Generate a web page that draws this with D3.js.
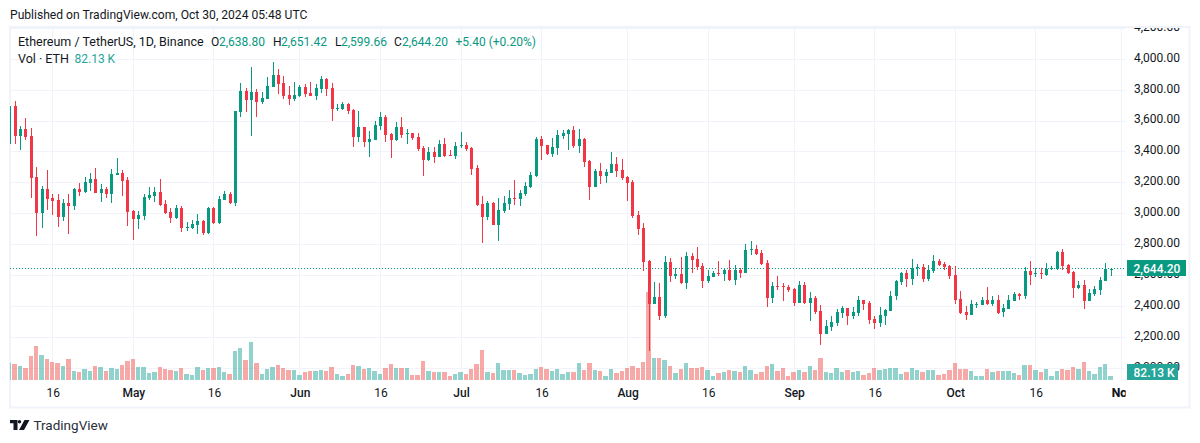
<!DOCTYPE html>
<html>
<head>
<meta charset="utf-8">
<style>
    html, body { margin: 0; padding: 0; background: #fff; }
    svg { display: block; font-family: Roboto, sans-serif; }
    text { fill: #131722; }
</style>
<script src="https://cdn.jsdelivr.net/npm/d3@7"></script>
</head>
<body>
<div id="chart"></div>
<script>
// first candle is 8 Apr 2024, one candle per day up to 30 Oct
const firstDay = new Date(Date.UTC(2024, 3, 8));
const lastDay = new Date(Date.UTC(2024, 9, 30));

const opens = [3452,3698,3504,3549,3504,3238,3005,3160,3102,3089,2979,3070,3050,3160,3141,3199,3225,3134,3160,3128,3251,3264,3219,3018,2966,2986,3102,3115,3141,3063,3011,2973,3037,2908,2908,2927,2953,2876,3037,2940,3089,3128,3070,3659,3795,3737,3788,3724,3743,3821,3898,
    3847,3769,3743,3763,3821,3782,3763,3808,3873,3814,3678,3678,3711,3672,3497,3562,3465,3478,3568,3627,3517,3478,3562,3517,3523,3497,3426,3348,3400,3368,3452,3381,3374,3437,3445,3426,3296,3063,2979,3070,2927,3018,3063,3102,3096,3128,3173,3245,3484,3445,3387,3426,3504,3517,3542,3439,
    3482,3340,3171,3275,3242,3262,3320,3281,3236,3204,2990,2906,2692,2414,2459,2336,2686,2595,2608,2550,2724,2705,2660,2563,2589,2614,2608,2634,2569,2634,2614,2763,2770,2744,2679,2453,2530,2530,2524,2511,2420,2537,2420,2453,2368,2220,2265,2291,2356,2388,2336,2355,
    2440,2420,2317,2291,2336,2368,2465,2556,2614,2576,2647,2653,2576,2627,2692,2673,2660,2601,2446,2362,2342,2407,2407,2440,2414,2440,2362,2381,2433,2478,2465,2627,2608,2614,2601,2640,2640,2750,2666,2621,2517,2537,2433,2478,2504,2563,2638.80];
const highs = [3698,3730,3568,3620,3555,3303,3180,3283,3128,3128,3096,3128,3167,3199,3238,3264,3296,3193,3173,3290,3361,3283,3238,3024,3018,3128,3173,3173,3225,3089,3037,3057,3050,2947,2960,2999,2960,3044,3044,3115,3147,3141,3665,3847,3814,3950,3808,3788,3886,3983,3937,
    3892,3827,3853,3834,3840,3853,3840,3892,3879,3847,3711,3724,3717,3678,3665,3562,3536,3601,3659,3640,3523,3594,3627,3549,3523,3523,3439,3432,3432,3478,3491,3413,3465,3530,3465,3432,3316,3115,3083,3076,3102,3115,3154,3219,3154,3206,3271,3497,3504,3445,3491,3542,3542,3549,3568,3549,
    3488,3346,3288,3327,3288,3398,3365,3352,3242,3217,3016,2938,2699,2556,2550,2724,2712,2647,2718,2750,2744,2783,2679,2634,2627,2692,2647,2699,2666,2647,2802,2822,2796,2763,2699,2556,2595,2550,2537,2517,2563,2556,2491,2465,2407,2310,2336,2381,2401,2388,2394,2465,
    2440,2433,2336,2394,2381,2498,2569,2621,2634,2705,2673,2673,2666,2731,2705,2686,2666,2660,2498,2401,2440,2427,2459,2524,2465,2472,2414,2472,2491,2485,2653,2692,2647,2647,2679,2660,2757,2770,2673,2627,2563,2569,2511,2530,2589,2679,2651.42];
const lows = [3452,3452,3413,3478,3102,2856,2908,3024,2992,2914,2953,2869,3024,3115,3134,3147,3134,3076,3102,3070,3251,3115,2921,2830,2901,2960,3089,3076,3050,2999,2940,2966,2882,2889,2901,2869,2863,2869,2934,2934,3089,3063,3050,3627,3659,3504,3627,3711,3743,3821,3775,
    3743,3704,3730,3756,3756,3763,3737,3782,3763,3601,3665,3672,3646,3432,3465,3432,3368,3478,3542,3465,3361,3471,3491,3452,3478,3406,3245,3342,3329,3368,3368,3374,3355,3426,3406,3251,3050,2811,2960,2927,2824,3005,3025,3057,3050,3115,3167,3238,3348,3381,3368,3381,3484,3413,3426,3394,
    3301,3087,3171,3191,3197,3262,3236,3217,3081,2971,2860,2627,2109,2414,2310,2323,2556,2576,2543,2511,2614,2634,2517,2550,2589,2595,2563,2563,2537,2582,2614,2731,2731,2666,2394,2420,2504,2433,2491,2401,2420,2414,2304,2349,2148,2220,2239,2271,2323,2278,2317,2336,
    2375,2284,2252,2265,2278,2368,2440,2537,2524,2537,2595,2556,2563,2614,2660,2634,2576,2414,2349,2310,2342,2388,2407,2407,2401,2349,2330,2381,2433,2440,2446,2537,2589,2576,2595,2634,2634,2634,2608,2453,2511,2381,2433,2465,2472,2563,2599.66];
const closes = [3698,3504,3549,3497,3234,3005,3160,3096,3083,2979,3070,3050,3160,3141,3206,3225,3134,3160,3128,3257,3264,3212,3011,2966,2992,3109,3122,3141,3057,3005,2973,3037,2908,2914,2934,2953,2876,3037,2940,3096,3128,3070,3665,3795,3737,3788,3724,3750,3827,3898,3840,
    3763,3743,3769,3821,3776,3763,3814,3873,3808,3678,3685,3709,3665,3497,3562,3465,3484,3575,3627,3510,3478,3562,3510,3523,3491,3419,3348,3400,3368,3452,3374,3376,3439,3445,3419,3290,3057,2979,3070,2927,3025,3070,3102,3096,3135,3180,3251,3484,3439,3387,3432,3510,3523,3542,3439,3484,
    3333,3171,3275,3242,3268,3320,3275,3229,3197,2983,2899,2686,2414,2459,2336,2686,2595,2608,2550,2724,2699,2653,2563,2595,2614,2608,2634,2569,2634,2614,2763,2770,2737,2673,2453,2530,2524,2524,2504,2420,2537,2420,2453,2362,2220,2271,2297,2362,2388,2336,2362,2440,
    2414,2310,2291,2342,2375,2465,2563,2614,2576,2647,2653,2576,2634,2692,2666,2653,2595,2440,2355,2342,2414,2414,2440,2414,2440,2355,2388,2440,2478,2465,2627,2601,2614,2608,2640,2647,2750,2660,2614,2517,2537,2433,2485,2511,2569,2640,2644.20];
// volume in thousands of ETH
const volumes = [348,328,287,246,492,697,512,430,369,348,287,430,184,164,225,184,287,266,184,246,225,307,389,430,266,266,143,164,266,225,205,184,246,123,102,266,205,246,246,266,164,123,594,656,410,779,348,123,225,266,307,
    246,205,205,102,164,184,184,205,184,266,123,82,123,307,287,225,246,184,123,246,328,246,246,246,102,102,389,184,164,164,164,82,123,164,123,225,328,615,164,143,348,205,205,205,143,102,123,225,266,225,184,225,123,164,164,348,
    205,348,205,184,82,225,143,184,246,287,246,369,1803,451,451,410,287,143,225,348,246,246,266,205,82,143,164,205,184,164,287,205,123,164,287,328,184,246,82,164,205,164,287,205,451,164,143,246,164,205,164,184,
    102,143,246,205,225,246,246,123,164,246,205,164,205,205,102,123,205,348,225,225,184,82,82,225,164,184,184,184,143,102,307,307,205,164,225,82,184,225,205,266,225,369,184,123,266,328,82.13];

const priceTicks = [4200,4000,3800,3600,3400,3200,3000,2800,2600,2400,2200,2000];
const timeTicks = [[2024,3,16],[2024,4,1],[2024,4,16],[2024,5,1],[2024,5,16],[2024,6,1],[2024,6,16],[2024,7,1],[2024,7,16],[2024,8,1],[2024,8,16],[2024,9,1],[2024,9,16],[2024,10,1]]
    .map(d => new Date(Date.UTC(d[0], d[1], d[2])));

const upColor = "#089981";
const downColor = "#f23645";
const gridColor = "#f0f3fa";

const width = 1200;
const height = 443;
const paneLeft = 10;
const paneRight = 1125.5;
const paneTop = 28;
const paneBottom = 380;

const days = d3.utcDay.range(firstDay, d3.utcDay.offset(lastDay, 1));
const candles = days.map((day, i) => ({
    day: day, open: opens[i], high: highs[i], low: lows[i], close: closes[i], volume: volumes[i]
}));

const x = d3.scaleUtc().domain([firstDay, lastDay]).range([9.8, 1111.06]);
const y = d3.scaleLinear().domain([2000, 4200]).range([368.2, 28.4]);
const yVolume = d3.scaleLinear().domain([0, 1803]).range([paneBottom, 292]);
const step = x(days[1]) - x(days[0]);

const svg = d3.select("#chart").append("svg")
    .attr("width", width)
    .attr("height", height);

const defs = svg.append("defs");
defs.append("clipPath").attr("id", "pane-clip").append("rect")
    .attr("x", paneLeft).attr("y", paneTop)
    .attr("width", paneRight - paneLeft).attr("height", paneBottom - paneTop);
defs.append("clipPath").attr("id", "price-clip").append("rect")
    .attr("x", paneRight).attr("y", paneTop)
    .attr("width", 64).attr("height", paneBottom - paneTop);
defs.append("clipPath").attr("id", "time-clip").append("rect")
    .attr("x", paneLeft).attr("y", paneBottom)
    .attr("width", paneRight - paneLeft).attr("height", 26);

// frame around the chart
svg.append("rect")
    .attr("x", 10).attr("y", 27)
    .attr("width", 1179.5).attr("height", 380.5)
    .attr("fill", "none")
    .attr("stroke", gridColor)
    .attr("stroke-width", 2);

// grid
const pane = svg.append("g").attr("clip-path", "url(#pane-clip)");
const grid = pane.append("g").attr("shape-rendering", "crispEdges");
grid.selectAll(".h-grid")
    .data(priceTicks)
    .enter()
    .append("line")
    .attr("class", "h-grid")
    .attr("x1", paneLeft).attr("x2", paneRight)
    .attr("y1", d => Math.floor(y(d)) + 0.5).attr("y2", d => Math.floor(y(d)) + 0.5)
    .attr("stroke", gridColor);
grid.selectAll(".v-grid")
    .data(timeTicks.concat([new Date(Date.UTC(2024, 10, 1))]))
    .enter()
    .append("line")
    .attr("class", "v-grid")
    .attr("x1", d => Math.floor(x(d)) + 0.5).attr("x2", d => Math.floor(x(d)) + 0.5)
    .attr("y1", paneTop).attr("y2", paneBottom)
    .attr("stroke", gridColor);

// volume bars
const barLeft = d => Math.round(x(d) - step / 2);
pane.append("g").attr("shape-rendering", "crispEdges")
    .selectAll("rect")
    .data(candles)
    .enter()
    .append("rect")
    .attr("x", d => barLeft(d.day))
    .attr("width", d => barLeft(d3.utcDay.offset(d.day, 1)) - barLeft(d.day) - 1)
    .attr("y", d => yVolume(d.volume))
    .attr("height", d => paneBottom - yVolume(d.volume))
    .attr("fill", d => d.close >= d.open ? "rgba(38,166,154,0.5)" : "rgba(239,83,80,0.5)");

// last price line
pane.append("line")
    .attr("x1", paneLeft).attr("x2", paneRight)
    .attr("y1", Math.floor(y(2644.2)) + 0.5).attr("y2", Math.floor(y(2644.2)) + 0.5)
    .attr("stroke", upColor)
    .attr("stroke-dasharray", "1 2");

// candles
const candle = pane.append("g").attr("shape-rendering", "crispEdges")
    .selectAll("g")
    .data(candles)
    .enter()
    .append("g")
    .attr("fill", d => d.close >= d.open ? upColor : downColor);
candle.append("rect")
    .attr("x", d => Math.floor(x(d.day)))
    .attr("width", 1)
    .attr("y", d => y(d.high))
    .attr("height", d => y(d.low) - y(d.high));
candle.append("rect")
    .attr("x", d => Math.floor(x(d.day)) - 1)
    .attr("width", 3)
    .attr("y", d => y(Math.max(d.open, d.close)))
    .attr("height", d => Math.max(1, Math.abs(y(d.open) - y(d.close))));

// axes
const priceAxis = d3.axisRight(y)
    .tickValues(priceTicks)
    .tickFormat(d3.format(",.2f"))
    .tickSize(0)
    .tickPadding(0);
svg.append("g")
    .attr("clip-path", "url(#price-clip)")
    .append("g")
    .attr("transform", "translate(1134,-2)")
    .call(priceAxis)
    .call(g => g.select(".domain").remove())
    .call(g => g.selectAll("text").attr("fill", "#131722").attr("font-size", 12).attr("font-family", "Roboto, sans-serif"));

const monthName = d3.utcFormat("%b");
const timeAxis = d3.axisBottom(x)
    .tickValues(timeTicks.concat([new Date(Date.UTC(2024, 10, 1))]))
    .tickFormat(d => d.getUTCDate() === 1 ? monthName(d) : String(d.getUTCDate()))
    .tickSize(0)
    .tickPadding(0);
svg.append("g")
    .attr("clip-path", "url(#time-clip)")
    .append("g")
    .attr("transform", "translate(0,388.5)")
    .call(timeAxis)
    .call(g => g.select(".domain").remove())
    .call(g => g.selectAll("text")
        .attr("fill", "#131722")
        .attr("font-size", 12)
        .attr("font-family", "Roboto, sans-serif")
        .attr("font-weight", d => d.getUTCDate() === 1 ? 500 : 400));

// price tags
const tags = [
    { label: d3.format(",.2f")(2644.2), top: 260, w: 59, color: upColor },
    { label: "82.13 K", top: 364, w: 51, color: "#26a69a" }
];
const tag = svg.selectAll(".tag")
    .data(tags)
    .enter()
    .append("g")
    .attr("class", "tag");
tag.append("rect")
    .attr("x", 1127)
    .attr("y", d => d.top)
    .attr("width", d => d.w)
    .attr("height", 16)
    .attr("fill", d => d.color);
tag.append("text")
    .attr("x", 1133.5)
    .attr("y", d => d.top + 12.5)
    .attr("font-size", 12)
    .attr("font-weight", 500)
    .style("fill", "#fff")
    .text(d => d.label);

// header and legend
svg.append("text").attr("x", 10).attr("y", 19).attr("font-size", 12.1).text("Published on TradingView.com, Oct 30, 2024 05:48 UTC");
svg.append("text").attr("x", 18).attr("y", 46).attr("font-size", 12.5).text("Ethereum / TetherUS, 1D, Binance");
svg.append("text").attr("x", 18).attr("y", 63).attr("font-size", 12.5).text("Vol · ETH");
svg.append("text").attr("x", 74.5).attr("y", 63).attr("font-size", 12).style("fill", "#26a69a").text("82.13 K");

const legend = [
    { k: "O", v: "2,638.80", kx: 211, vx: 219 },
    { k: "H", v: "2,651.42", kx: 273, vx: 281 },
    { k: "L", v: "2,599.66", kx: 335, vx: 341 },
    { k: "C", v: "2,644.20", kx: 394, vx: 402 }
];
legend.forEach(d => {
    svg.append("text").attr("x", d.kx).attr("y", 46).attr("font-size", 12).text(d.k);
    svg.append("text").attr("x", d.vx).attr("y", 46).attr("font-size", 12).style("fill", upColor).text(d.v);
});
svg.append("text").attr("x", 455.5).attr("y", 46).attr("font-size", 12).style("fill", upColor).text("+5.40 (+0.20%)");

// TradingView logo
svg.append("path")
    .attr("d", "M10 420H17.5V430H13.5V423.3H10ZM24.5 420H29.5L24 430H19Z")
    .attr("fill", "#131722");
svg.append("circle").attr("cx", 19.5).attr("cy", 421.7).attr("r", 1.7).attr("fill", "#131722");
svg.append("text").attr("x", 33.5).attr("y", 430).attr("font-size", 13.5).style("fill", "#2a2e39").text("TradingView");
</script>
</body>
</html>
